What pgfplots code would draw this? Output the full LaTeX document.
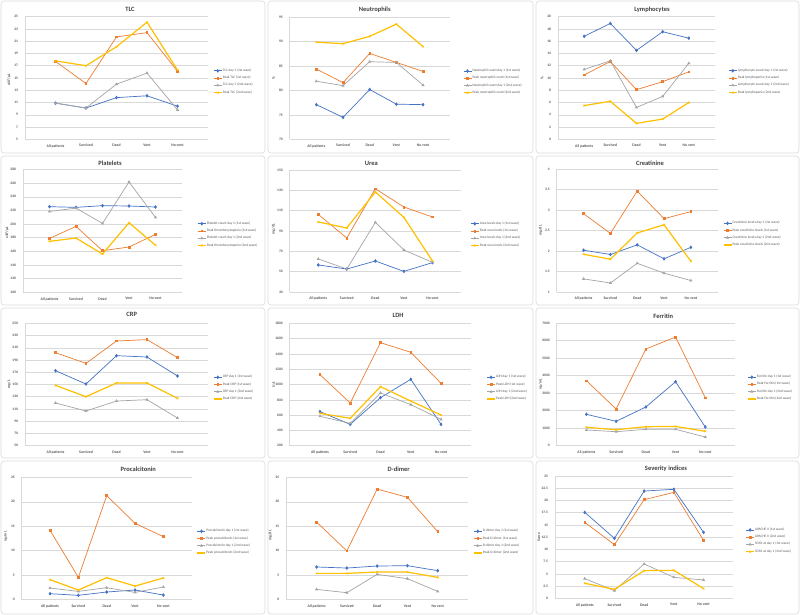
\documentclass[border=0pt]{standalone}
\usepackage{fontspec}
\setmainfont{Carlito}
\usepackage{pgfplots}
\pgfplotsset{compat=1.18}
\definecolor{sblue}{HTML}{4472C4}
\definecolor{sorange}{HTML}{ED7D31}
\definecolor{sgray}{HTML}{A5A5A5}
\definecolor{sgold}{HTML}{FFC000}
\definecolor{gridc}{HTML}{D9D9D9}
\definecolor{txt}{HTML}{595959}
\definecolor{ttl}{HTML}{404040}
\pgfplotsset{
 panel/.style={
  scale only axis, anchor=south west,
  xmin=-1, xmax=5, xtick={0,1,2,3,4},
  xticklabels={All patients,Survived,Dead,Vent,No vent},
  ymajorgrids, major grid style={gridc, line width=0.5pt},
  axis x line*=bottom, axis y line*=left,
  axis line style={-, gridc, line width=0.5pt},
  tick style={draw=none}, major tick length=0pt,
  scaled ticks=false,
  /pgf/number format/1000 sep={},
  /pgf/number format/assume math mode=true,
  x tick label style={font=\fontsize{3.8}{4}\selectfont\bfseries, text=txt, yshift=-1.5pt},
  y tick label style={font=\fontsize{3.6}{4}\selectfont\bfseries, text=txt, xshift=-3.5pt},
  every axis y label/.style={at={(rel axis cs:0,0.5)}, xshift=-16pt, rotate=90, anchor=center, font=\fontsize{3.8}{4}\selectfont\bfseries, text=txt},
  legend cell align=left,
  legend style={at={(1,0.47)}, anchor=west, xshift=5pt, draw=none, fill=none, font=\fontsize{3.5}{4}\selectfont, text=txt, row sep=2.4pt, inner sep=0pt, nodes={inner sep=0.4pt}},
  legend image code/.code={\draw[mark repeat=2,mark phase=2,##1] plot coordinates {(0pt,0pt)(4pt,0pt)(8pt,0pt)};},
 },
 s1/.style={sblue, line width=0.7pt, mark=diamond*, mark size=1.3pt, mark options={solid}},
 s2/.style={sorange, line width=0.7pt, mark=square*, mark size=0.85pt, mark options={solid}},
 s3/.style={sgray, line width=0.7pt, mark=triangle*, mark size=1.1pt, mark options={solid}},
 s4/.style={sgold, line width=1.2pt, mark=x, mark size=1.2pt, mark options={solid, line width=0.6pt}},
}
\newcommand{\ptitle}[3]{\node[font=\fontsize{6.5}{7}\selectfont\bfseries, text=ttl] at (#1pt,-#2pt) {#3};}
\begin{document}
\begin{tikzpicture}
\path[use as bounding box, fill=white] (0,0) rectangle (800pt,-615pt);
\begin{scope}[gray!28, line width=0.6pt, rounded corners=3pt]
\draw (1pt,-1pt) rectangle (265pt,-153pt);
\draw (268pt,-1pt) rectangle (533pt,-153pt);
\draw (536pt,-1pt) rectangle (799pt,-153pt);
\draw (1pt,-156pt) rectangle (265pt,-305pt);
\draw (268pt,-156pt) rectangle (533pt,-305pt);
\draw (536pt,-156pt) rectangle (799pt,-305pt);
\draw (1pt,-308pt) rectangle (265pt,-458pt);
\draw (268pt,-308pt) rectangle (533pt,-458pt);
\draw (536pt,-308pt) rectangle (799pt,-458pt);
\draw (1pt,-461pt) rectangle (265pt,-614pt);
\draw (268pt,-461pt) rectangle (533pt,-614pt);
\draw (536pt,-461pt) rectangle (799pt,-614pt);
\end{scope}

% ---------- TLC
\begin{axis}[panel, at={(25pt,-139.3pt)}, width=183pt, height=122.6pt,
  ymin=5, ymax=25, ytick={5,7,9,11,13,15,17,19,21,23,25}, ylabel={x10³/µL},
  ylabel style={xshift=-2pt}]
\addplot[s1] coordinates {(0,10.9)(1,10.1)(2,11.8)(3,12.1)(4,10.4)};
\addplot[s2] coordinates {(0,17.7)(1,14.1)(2,21.7)(3,22.4)(4,16.1)};
\addplot[s3] coordinates {(0,10.9)(1,10.1)(2,14.0)(3,15.8)(4,9.8)};
\addplot[s4] coordinates {(0,17.8)(1,17.0)(2,20.1)(3,24.1)(4,16.3)};
\legend{TLC day 1 (1st wave),Peak TLC (1st wave),TLC day 1 (2nd wave),Peak TLC (2nd wave)}
\end{axis}
\ptitle{130}{9}{TLC}

% ---------- Neutrophils
\begin{axis}[panel, at={(289.7pt,-139.3pt)}, width=160pt, height=122pt,
  ymin=70, ymax=95, ytick={70,75,80,85,90,95}, ylabel={\%}, legend style={xshift=8pt}]
\addplot[s1] coordinates {(0,77.1)(1,74.5)(2,80.2)(3,77.2)(4,77.1)};
\addplot[s2] coordinates {(0,84.4)(1,81.6)(2,87.6)(3,85.75)(4,83.9)};
\addplot[s3] coordinates {(0,81.9)(1,81.0)(2,85.9)(3,85.75)(4,81.1)};
\addplot[s4] coordinates {(0,89.9)(1,89.6)(2,91.1)(3,93.6)(4,89.0)};
\legend{Neutrophil count day 1 (1st wave),Peak neutrophil count (1st wave),Neutrophil count day 1 (2nd wave),Peak neutrophil count (2nd wave)}
\end{axis}
\ptitle{374.7}{10}{Neutrophils}

% ---------- Lymphocytes
\begin{axis}[panel, at={(558pt,-139.3pt)}, width=157pt, height=122.6pt,
  ymin=0, ymax=20, ytick={0,2,4,6,8,10,12,14,16,18,20}, ylabel={\%}, legend style={xshift=8pt}]
\addplot[s1] coordinates {(0,16.8)(1,18.9)(2,14.5)(3,17.55)(4,16.5)};
\addplot[s2] coordinates {(0,10.5)(1,12.7)(2,8.1)(3,9.4)(4,11.0)};
\addplot[s3] coordinates {(0,11.4)(1,12.8)(2,5.2)(3,7.0)(4,12.4)};
\addplot[s4] coordinates {(0,5.5)(1,6.2)(2,2.6)(3,3.3)(4,6.0)};
\legend{Lymphocyte count day 1 (1st wave),Peak lymphopenia (1st wave),Lymphocyte count day 1 (2nd wave),Peak lymphopenia (2nd wave)}
\end{axis}
\ptitle{652}{10}{Lymphocytes}

% ---------- Platelets
\begin{axis}[panel, at={(23pt,-292.3pt)}, width=159pt, height=122.8pt,
  ymin=100, ymax=280, ytick={100,120,140,160,180,200,220,240,260,280}, ylabel={x10³/µL},
  ylabel style={xshift=-2pt}, legend style={xshift=10pt}]
\addplot[s1] coordinates {(0,225.5)(1,224.5)(2,227)(3,226.5)(4,225)};
\addplot[s2] coordinates {(0,179)(1,196.6)(2,161)(3,166.4)(4,184.9)};
\addplot[s3] coordinates {(0,218.5)(1,223.4)(2,201)(3,261.7)(4,209.8)};
\addplot[s4] coordinates {(0,174.7)(1,179.5)(2,156)(3,202)(4,169)};
\legend{Platelet count day 1 (1st wave),Peak thrombocytopenia (1st wave),Platelet count day 1 (2nd wave),Peak thrombocytopenia (2nd wave)}
\end{axis}
\ptitle{110}{163.3}{Platelets}

% ---------- Urea
\begin{axis}[panel, at={(289.7pt,-292pt)}, width=171.3pt, height=122pt,
  ymin=30, ymax=150, ytick={30,50,70,90,110,130,150}, ylabel={mg/dL}, ylabel style={xshift=2pt}, legend style={xshift=4pt}]
\addplot[s1] coordinates {(0,56.6)(1,52.6)(2,60.5)(3,50.3)(4,58.9)};
\addplot[s2] coordinates {(0,106.4)(1,83.1)(2,131.6)(3,113.6)(4,103.8)};
\addplot[s3] coordinates {(0,62.5)(1,52.6)(2,98.5)(3,71.3)(4,59.2)};
\addplot[s4] coordinates {(0,98.9)(1,93)(2,128.4)(3,103.4)(4,60.5)};
\legend{Urea levels day 1 (1st wave),Peak urea levels (1st wave),Urea levels day 1 (2nd wave),Peak urea levels (2nd wave)}
\end{axis}
\ptitle{371.3}{163.3}{Urea}

% ---------- Creatinine
\begin{axis}[panel, at={(556.7pt,-292pt)}, width=161pt, height=123pt,
  ymin=1, ymax=4, ytick={1,1.5,2,2.5,3,3.5,4}, ylabel={mg/dL}]
\addplot[s1] coordinates {(0,2.02)(1,1.915)(2,2.15)(3,1.81)(4,2.09)};
\addplot[s2] coordinates {(0,2.91)(1,2.43)(2,3.46)(3,2.79)(4,2.96)};
\addplot[s3] coordinates {(0,1.32)(1,1.22)(2,1.70)(3,1.46)(4,1.28)};
\addplot[s4] coordinates {(0,1.92)(1,1.80)(2,2.44)(3,2.64)(4,1.75)};
\legend{Creatinine levels day 1 (1st wave),Peak creatinine levels (1st wave),Creatinine levels day 1 (2nd wave),Peak creatinine levels (2nd wave)}
\end{axis}
\ptitle{650}{163.3}{Creatinine}

% ---------- CRP
\begin{axis}[panel, at={(25pt,-445.7pt)}, width=183pt, height=122.4pt,
  ymin=50, ymax=250, ytick={50,70,90,110,130,150,170,190,210,230,250}, ylabel={mg/L}]
\addplot[s1] coordinates {(0,172.6)(1,150.8)(2,197.1)(3,194.9)(4,163.9)};
\addplot[s2] coordinates {(0,202)(1,184.6)(2,221.1)(3,223.3)(4,193.9)};
\addplot[s3] coordinates {(0,119.8)(1,106.7)(2,123)(3,125.2)(4,95.2)};
\addplot[s4] coordinates {(0,148.6)(1,130.1)(2,152.5)(3,152.5)(4,127.4)};
\legend{CRP day 1 (1st wave),Peak CRP (1st wave),CRP day 1 (2nd wave),Peak CRP (2nd wave)}
\end{axis}
\ptitle{131.7}{314}{CRP}

% ---------- LDH
\begin{axis}[panel, at={(289.7pt,-445.7pt)}, width=181.6pt, height=122.4pt,
  ymin=200, ymax=1800, ytick={200,400,600,800,1000,1200,1400,1600,1800}, ylabel={U/L}, legend style={xshift=10pt}]
\addplot[s1] coordinates {(0,645)(1,479)(2,828)(3,1068)(4,479)};
\addplot[s2] coordinates {(0,1129)(1,758)(2,1547)(3,1421)(4,1015)};
\addplot[s3] coordinates {(0,584)(1,492)(2,889)(3,737)(4,544)};
\addplot[s4] coordinates {(0,623)(1,558)(2,972)(3,784)(4,601)};
\legend{LDH day 1 (1st wave),Peak LDH (1st wave),LDH day 1 (2nd wave),Peak LDH (2nd wave)}
\end{axis}
\ptitle{398}{315}{LDH}

% ---------- Ferritin
\begin{axis}[panel, at={(556.7pt,-445.7pt)}, width=178.3pt, height=122.7pt,
  ymin=0, ymax=7000, ytick={0,1000,2000,3000,4000,5000,6000,7000}, ylabel={ng/mL}, legend style={xshift=7pt}]
\addplot[s1] coordinates {(0,1791)(1,1392)(2,2208)(3,3651)(4,1067)};
\addplot[s2] coordinates {(0,3708)(1,2094)(2,5516)(3,6201)(4,2738)};
\addplot[s3] coordinates {(0,896)(1,799)(2,935)(3,935)(4,496)};
\addplot[s4] coordinates {(0,1050)(1,913)(2,1084)(3,1100)(4,821)};
\legend{Ferritin day 1 (1st wave),Peak Ferritin (1st wave),Ferritin day 1 (2nd wave),Peak Ferritin (2nd wave)}
\end{axis}
\ptitle{663.3}{316}{Ferritin}

% ---------- Procalcitonin
\begin{axis}[panel, at={(21.7pt,-599.7pt)}, width=170pt, height=122.4pt,
  ymin=0, ymax=25, ytick={0,5,10,15,20,25}, ylabel={ng/mL}, ylabel style={xshift=2pt}]
\addplot[s1] coordinates {(0,1.23)(1,0.89)(2,1.57)(3,1.98)(4,0.95)};
\addplot[s2] coordinates {(0,14.17)(1,4.56)(2,21.25)(3,15.6)(4,12.87)};
\addplot[s3] coordinates {(0,2.38)(1,1.70)(2,2.45)(3,1.5)(4,2.59)};
\addplot[s4] coordinates {(0,4.09)(1,1.98)(2,4.5)(3,2.79)(4,4.43)};
\legend{Procalcitonin day 1 (1st wave),Peak procalcitonin (1st wave),Procalcitonin day 1 (2nd wave),Peak procalcitonin (2nd wave)}
\end{axis}
\ptitle{138.3}{469.3}{Procalcitonin}

% ---------- D-dimer
\begin{axis}[panel, at={(286.3pt,-599.7pt)}, width=181.7pt, height=122.4pt,
  ymin=0, ymax=25, ytick={0,5,10,15,20,25}, ylabel={mg/dL}, ylabel style={xshift=3pt}]
\addplot[s1] coordinates {(0,6.68)(1,6.47)(2,6.88)(3,6.95)(4,5.93)};
\addplot[s2] coordinates {(0,15.87)(1,9.95)(2,22.6)(3,20.9)(4,13.9)};
\addplot[s3] coordinates {(0,2.11)(1,1.43)(2,5.18)(3,4.29)(4,1.70)};
\addplot[s4] coordinates {(0,5.38)(1,5.38)(2,5.65)(3,5.65)(4,4.56)};
\legend{D-dimer day 1 (1st wave),Peak D-dimer (1st wave),D-dimer day 1 (2nd wave),Peak D-dimer (2nd wave)}
\end{axis}
\ptitle{398.7}{469.3}{D-dimer}

% ---------- Severity indices
\begin{axis}[panel, at={(555pt,-598.3pt)}, width=178.3pt, height=122.3pt,
  ymin=0, ymax=25, ytick={0,2.5,5,7.5,10,12.5,15,17.5,20,22.5,25}, ylabel={Score}, legend style={xshift=7pt}]
\addplot[s1] coordinates {(0,17.57)(1,12.26)(2,21.93)(3,22.28)(4,13.48)};
\addplot[s2] coordinates {(0,15.53)(1,10.97)(2,20.16)(3,21.66)(4,11.85)};
\addplot[s3] coordinates {(0,4.02)(1,1.57)(2,7.02)(3,4.29)(4,3.75)};
\addplot[s4] coordinates {(0,3.07)(1,1.84)(2,5.65)(3,5.72)(4,1.98)};
\legend{APACHE II (1st wave),APACHE II (2nd wave),SOFA at day 1 (1st wave),SOFA at day 1 (2nd wave)}
\end{axis}
\ptitle{666}{468.3}{Severity indices}
\end{tikzpicture}
\end{document}
